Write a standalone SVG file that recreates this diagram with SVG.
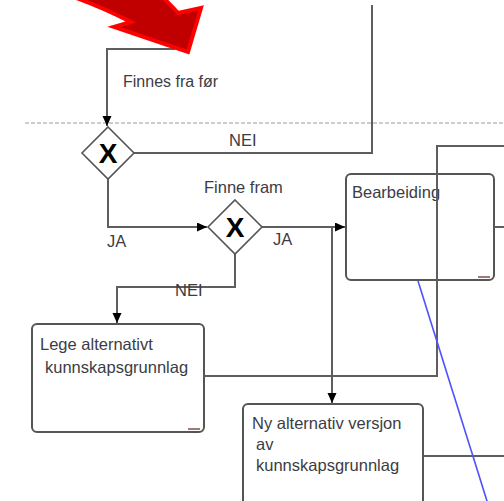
<svg xmlns="http://www.w3.org/2000/svg" width="504" height="501" viewBox="0 0 504 501">
<style>
.t{font-family:"Liberation Sans",Arial,sans-serif;font-size:16.5px;fill:#3c3c44}
.c{fill:none;stroke:#5e5e5e;stroke-width:2}
.box{fill:#fff;stroke:#555;stroke-width:2}
.gw{fill:#fff;stroke:#555;stroke-width:1.6}
.x{font-family:"Liberation Sans",Arial,sans-serif;font-size:28px;font-weight:bold;fill:#000;text-anchor:middle}
.mk{stroke:#a07878;stroke-width:2}
</style>
<defs>
<marker id="ah" markerUnits="userSpaceOnUse" markerWidth="11" markerHeight="10" refX="10" refY="4.5" orient="auto">
<path d="M0,0 L10,4.5 L0,9 z" fill="#000"/>
</marker>
</defs>
<rect width="504" height="501" fill="#fff"/>
<line x1="25" y1="123" x2="504" y2="123" stroke="#bdbdbd" stroke-width="1.5" stroke-dasharray="4 2"/>
<g id="n-lege">
<rect class="box" x="32" y="324" width="172" height="108" rx="5"/>
<line class="mk" x1="188" y1="429" x2="200" y2="429"/>
<text class="t" x="40" y="350">Lege alternativt</text>
<text class="t" x="45" y="373">kunnskapsgrunnlag</text>
</g>
<g id="n-bearbeiding">
<rect class="box" x="346" y="174" width="148" height="106" rx="5"/>
<line class="mk" x1="478" y1="277" x2="490" y2="277"/>
<text class="t" x="352" y="198">Bearbeiding</text>
</g>
<g id="n-ny">
<rect class="box" x="243" y="404" width="180" height="112" rx="5"/>
<text class="t" x="252" y="429">Ny alternativ versjon</text>
<text class="t" x="256" y="450">av</text>
<text class="t" x="256" y="471">kunnskapsgrunnlag</text>
</g>
<g id="connectors">
<path class="c" d="M175,49 H107 V126" marker-end="url(#ah)"/>
<path class="c" d="M134,153 H372 V5"/>
<path class="c" d="M108,179 V227 H207" marker-end="url(#ah)"/>
<path class="c" d="M262,227 H345" marker-end="url(#ah)"/>
<path class="c" d="M332,227 V403" marker-end="url(#ah)"/>
<path class="c" d="M235,253 V287 H117 V323" marker-end="url(#ah)"/>
<path class="c" d="M204,376 H437 V146 H504"/>
<path class="c" d="M494,227 H504"/>
<path class="c" d="M423,456 H504"/>
<line x1="418" y1="281" x2="487" y2="501" stroke="#5050ff" stroke-width="1.6"/>
</g>
<g id="g-finnes">
<path class="gw" d="M108,127 L134,153 L108,179 L82,153 Z"/>
<text class="x" x="108" y="163">X</text>
</g>
<g id="g-finne-fram">
<path class="gw" d="M235,200 L262,227 L235,254 L208,227 Z"/>
<text class="x" x="235" y="237">X</text>
</g>
<g id="labels">
<text class="t" x="123" y="87" style="font-size:16px">Finnes fra før</text>
<text class="t" x="229" y="146">NEI</text>
<text class="t" x="204" y="193">Finne fram</text>
<text class="t" x="107" y="247">JA</text>
<text class="t" x="273" y="245">JA</text>
<text class="t" x="175" y="296">NEI</text>
</g>
<path d="M68,-5 Q100,6 131,22 L114,27 L188,52 L201,8 L178,13 Q170,4 160,-5 Z" fill="#c00000" stroke="#ff0000" stroke-width="4" stroke-linejoin="miter"/>
</svg>
